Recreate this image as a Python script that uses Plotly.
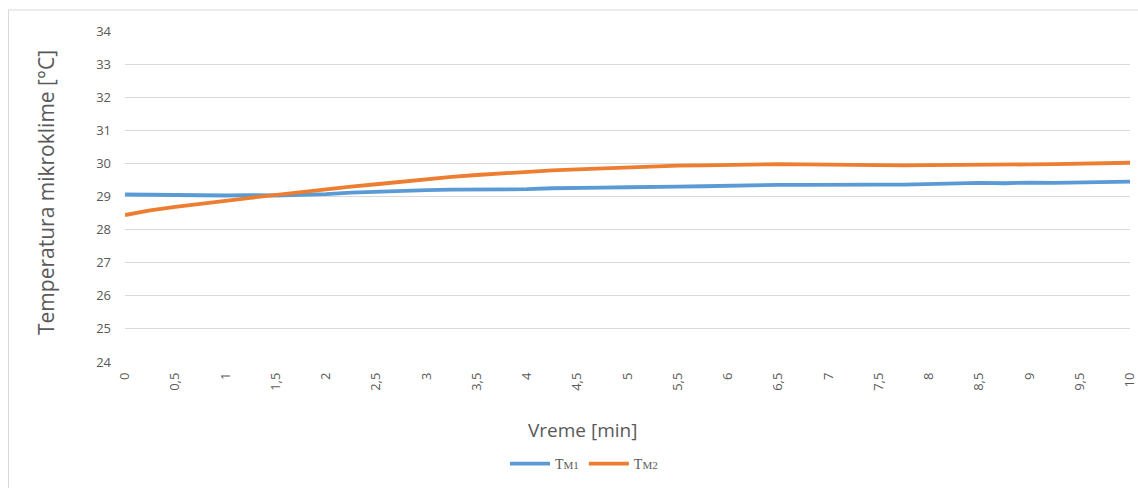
import plotly.graph_objects as go

time_min = [0, 0.25, 0.5, 0.75, 1, 1.25, 1.5, 1.75, 2, 2.25, 2.5, 2.75, 3, 3.25, 3.5, 3.75, 4, 4.25,
            4.5, 4.75, 5, 5.25, 5.5, 5.75, 6, 6.25, 6.5, 6.75, 7, 7.25, 7.5, 7.75, 8, 8.25, 8.5, 8.75,
            9, 9.25, 9.5, 9.75, 10]
tm1 = [29.06, 29.05, 29.03, 29.02, 29.03, 29.04, 29.03, 29.05, 29.07, 29.12, 29.15, 29.17, 29.19, 29.21,
       29.21, 29.22, 29.22, 29.25, 29.27, 29.27, 29.28, 29.28, 29.30, 29.31, 29.33, 29.33, 29.35, 29.35,
       29.36, 29.35, 29.36, 29.36, 29.38, 29.40, 29.41, 29.40, 29.42, 29.41, 29.42, 29.43, 29.45]
tm2 = [28.44, 28.58, 28.69, 28.79, 28.87, 28.96, 29.05, 29.13, 29.22, 29.30, 29.37, 29.45, 29.52, 29.59,
       29.65, 29.70, 29.75, 29.79, 29.82, 29.85, 29.87, 29.90, 29.93, 29.94, 29.96, 29.97, 29.98, 29.97,
       29.96, 29.95, 29.95, 29.94, 29.95, 29.95, 29.95, 29.96, 29.97, 29.98, 30.00, 30.00, 30.02]

x_ticks = [i * 0.5 for i in range(21)]
x_ticktext = [("%g" % v).replace(".", ",") for v in x_ticks]
y_ticks = list(range(24, 35))

grey = "#595959"
W, H = 1138, 488
L, R, T, B = 125, 8, 31, 126
PW, PH = W - L - R, H - T - B


def px(x):
    return (x - L) / PW


def py(y):
    return (H - B - y) / PH


fig = go.Figure()
fig.add_trace(go.Scatter(x=time_min, y=tm1, mode="lines", name="T<span style='font-size:11px'>M1</span>",
                         line=dict(color="#5b9bd5", width=3.8)))
fig.add_trace(go.Scatter(x=time_min, y=tm2, mode="lines", name="T<span style='font-size:11px'>M2</span>",
                         line=dict(color="#ed7d31", width=3.8)))

fig.update_layout(
    width=W, height=H,
    margin=dict(l=L, r=R, t=T, b=B, autoexpand=False),
    paper_bgcolor="white", plot_bgcolor="white",
    font=dict(family="Open Sans", color=grey, size=13),
    xaxis=dict(range=[0, 10], tickvals=x_ticks, ticktext=x_ticktext, tickangle=-90,
               showgrid=False, zeroline=False, showline=False, ticks="", automargin=False,
               ticklabelstandoff=7, ticklabeloverflow="allow", tickfont=dict(size=13, color=grey)),
    yaxis=dict(range=[24, 34], tickvals=y_ticks, showgrid=True, gridcolor="#d9d9d9", gridwidth=1,
               zeroline=False, showline=False, ticks="", automargin=False, ticklabelstandoff=13,
               tickfont=dict(size=13, color=grey)),
    legend=dict(orientation="h", x=px(584), xanchor="center", y=py(464), yanchor="middle",
                font=dict(family="Liberation Serif", size=14, color=grey), itemwidth=40,
                bgcolor="rgba(0,0,0,0)"),
    showlegend=True,
)
fig.add_annotation(text="Vreme [min]", xref="paper", yref="paper", x=px(582), y=py(430),
                   xanchor="center", yanchor="middle", showarrow=False,
                   font=dict(size=19, color=grey))
fig.add_annotation(text="Temperatura mikroklime [°C]", xref="paper", yref="paper", x=px(46), y=py(193),
                   xanchor="center", yanchor="middle", showarrow=False, textangle=-90,
                   font=dict(size=21, color=grey))
# chart border (top and left edges visible)
fig.add_shape(type="line", xref="paper", yref="paper", x0=px(8), x1=px(1140), y0=py(10), y1=py(10),
              line=dict(color="#d9d9d9", width=1))
fig.add_shape(type="line", xref="paper", yref="paper", x0=px(8.5), x1=px(8.5), y0=py(10), y1=py(490),
              line=dict(color="#d9d9d9", width=1))

fig.write_html("out.html", config={"displayModeBar": False},
               post_script="document.body.style.margin='0';document.body.style.overflow='hidden';")
